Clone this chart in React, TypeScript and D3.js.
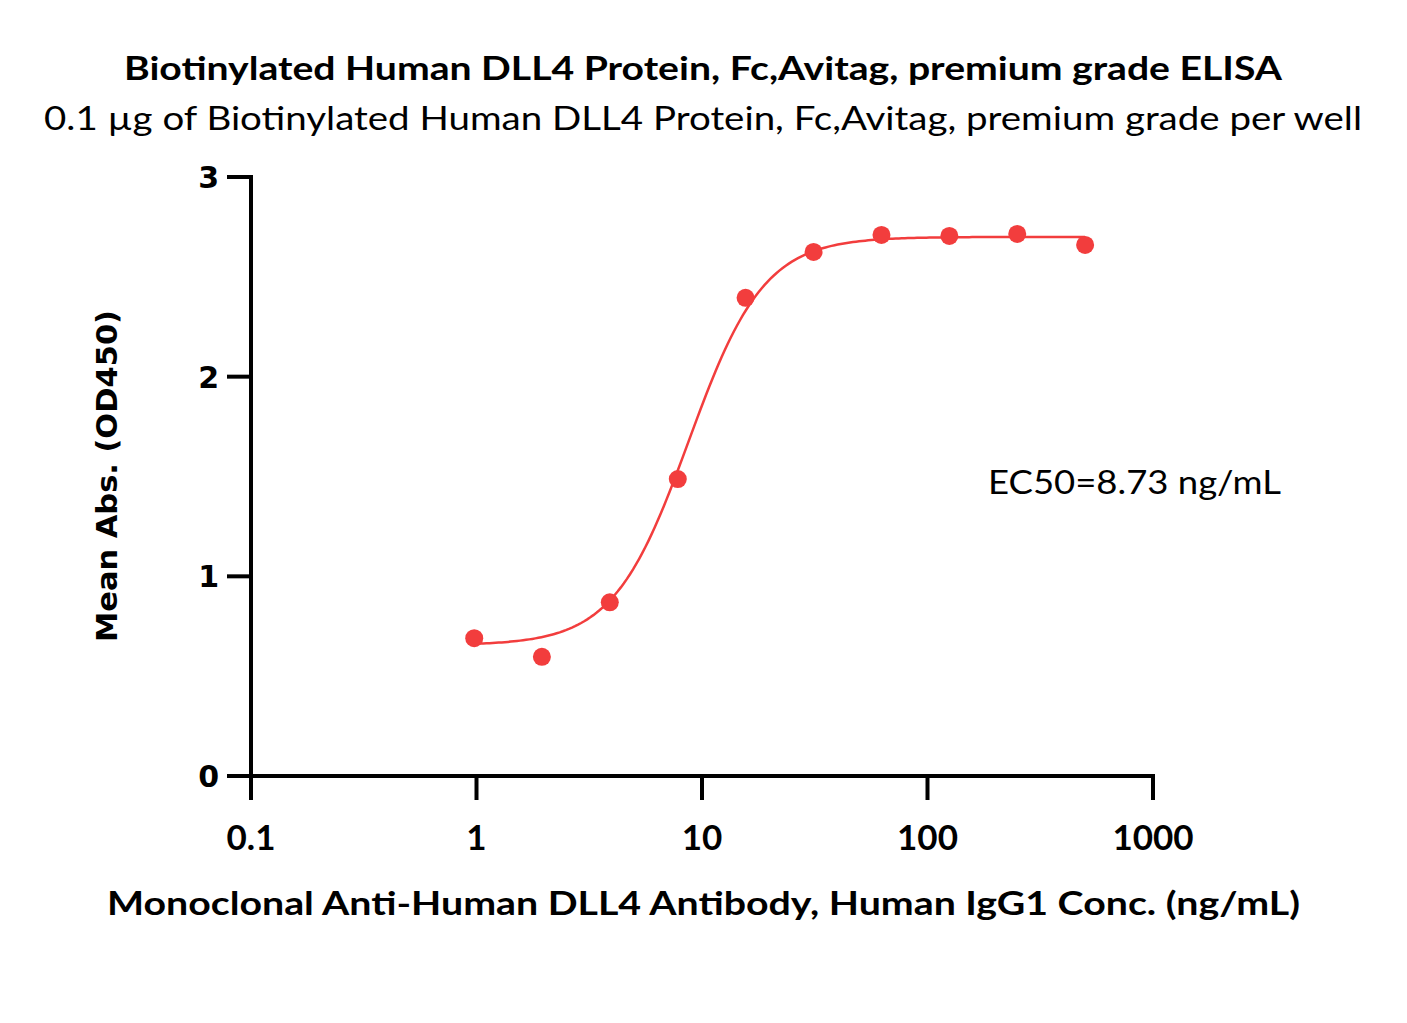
import React from "react";
import * as d3 from "d3";

const concentrations = [0.977, 1.95, 3.9, 7.81, 15.6, 31.25, 62.5, 125, 250, 500];
const absorbance = [0.69, 0.597, 0.87, 1.487, 2.395, 2.625, 2.71, 2.705, 2.715, 2.66];
const fitBottom = 0.655;
const fitTop = 2.70;
const fitEC50 = 8.73;
const fitHill = 2.6;
const xTicks = [0.1, 1, 10, 100, 1000];
const xTickLabels = ["0.1", "1", "10", "100", "1000"];
const yTicks = [0, 1, 2, 3];
const title = "Biotinylated Human DLL4 Protein, Fc,Avitag, premium grade ELISA";
const subtitle = "0.1 µg of Biotinylated Human DLL4 Protein, Fc,Avitag, premium grade per well";
const xLabel = "Monoclonal Anti-Human DLL4 Antibody, Human IgG1 Conc. (ng/mL)";
const yLabel = "Mean Abs. (OD450)";
const ec50Label = "EC50=8.73 ng/mL";

const W = 1407, H = 1023;
const left = 251, right = 1153, top = 177, bottom = 776;
const RED = "#f23d3d";
const FONT = "Lato, 'Open Sans', sans-serif";
const TICKFONT = "'DejaVu Sans', Verdana, sans-serif";

export default function App() {
  const x = d3.scaleLog().domain([0.1, 1000]).range([left, right]);
  const y = d3.scaleLinear().domain([0, 3]).range([bottom, top]);
  const fit = (c: number) => fitBottom + (fitTop - fitBottom) / (1 + Math.pow(fitEC50 / c, fitHill));
  const lo = Math.log10(concentrations[0]), hi = Math.log10(concentrations[concentrations.length - 1]);
  const curveX = d3.range(0, 201).map(i => Math.pow(10, lo + (hi - lo) * i / 200));
  const line = d3.line<number>().x(c => x(c)).y(c => y(fit(c)));
  return (
    <svg width={W} height={H} style={{ position: "absolute", left: 0, top: 0, background: "#fff" }}>
      <rect width={W} height={H} fill="#fff" />
      <text x={124} y={80} fontFamily={FONT} fontWeight="bold" fontSize={32} textLength={1158} lengthAdjust="spacingAndGlyphs">{title}</text>
      <text x={44} y={130} fontFamily={FONT} fontSize={32} textLength={1318} lengthAdjust="spacingAndGlyphs">{subtitle}</text>
      <line x1={left} x2={left} y1={top - 2} y2={bottom + 24} stroke="#000" strokeWidth={4} />
      <line x1={left} x2={right + 2} y1={bottom} y2={bottom} stroke="#000" strokeWidth={4} />
      {yTicks.map(t => (
        <g key={"y" + t}>
          <line x1={left - 24} x2={left} y1={y(t)} y2={y(t)} stroke="#000" strokeWidth={4} />
          <text x={219} y={y(t) + 11} textAnchor="end" fontFamily={TICKFONT} fontWeight="bold" fontSize={30}>{t}</text>
        </g>
      ))}
      {xTicks.map((t, i) => (
        <g key={"x" + t}>
          <line x1={x(t)} x2={x(t)} y1={bottom} y2={bottom + 24} stroke="#000" strokeWidth={4} />
          <text x={x(t)} y={850} textAnchor="middle" fontFamily={FONT} fontWeight="bold" fontSize={35}>{xTickLabels[i]}</text>
        </g>
      ))}
      <text transform={`translate(117,476) rotate(-90)`} textAnchor="middle" fontFamily={TICKFONT} fontWeight="bold" fontSize={29} textLength={332} lengthAdjust="spacingAndGlyphs">{yLabel}</text>
      <text x={107} y={915} fontFamily={FONT} fontWeight="bold" fontSize={32} textLength={1193} lengthAdjust="spacingAndGlyphs">{xLabel}</text>
      <path d={line(curveX) || ""} fill="none" stroke={RED} strokeWidth={2.5} />
      {concentrations.map((c, i) => (
        <circle key={i} cx={x(c)} cy={y(absorbance[i])} r={9} fill={RED} />
      ))}
      <text x={988} y={494} fontFamily={FONT} fontSize={32} textLength={293} lengthAdjust="spacingAndGlyphs">{ec50Label}</text>
    </svg>
  );
}
